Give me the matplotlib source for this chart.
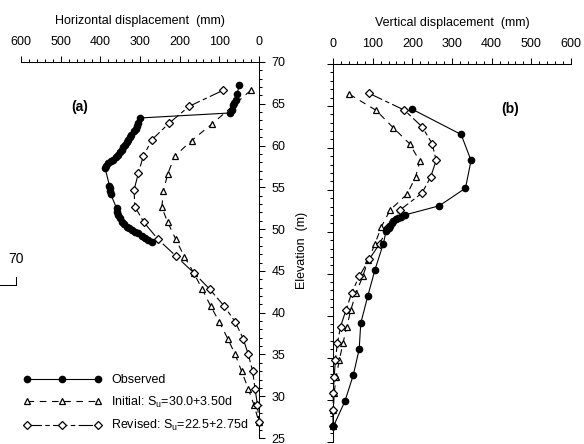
import matplotlib.pyplot as plt
from matplotlib.lines import Line2D
from matplotlib.ticker import MultipleLocator

plt.rcParams['font.family'] = ['Liberation Sans', 'DejaVu Sans']
plt.rcParams['font.size'] = 9

# (a) horizontal displacement (mm) vs elevation (m)
obs_h_disp = [50, 55, 59, 62, 65, 69, 73,
              300, 305, 308, 311, 316, 322, 326, 330, 334, 338, 342, 346, 351,
              355, 361, 367, 374, 380, 385, 388,
              377, 376, 375, 374,
              359, 357, 355, 351, 346, 340, 334, 327, 321, 313, 304, 296, 287,
              279, 270]
obs_h_elev = [67.2, 66.2, 65.5, 65.1, 64.8, 64.3, 63.9,
              63.3, 62.7, 62.3, 62.0, 61.7, 61.3, 61.0, 60.7, 60.4, 60.1, 59.8,
              59.5, 59.2, 58.9, 58.6, 58.3, 58.1, 57.9, 57.6, 57.3,
              55.2, 54.9, 54.6, 54.2,
              52.5, 52.1, 51.7, 51.3, 50.9, 50.6, 50.3, 50.1, 49.9, 49.7, 49.5,
              49.2, 48.9, 48.7, 48.5]

ini_h_disp = [21, 118, 170, 213, 230, 241, 245, 230, 210, 188, 165, 143,
              122, 100, 79, 60, 44, 27, 13, 0]
ini_h_elev = [66.6, 62.6, 60.6, 58.7, 56.6, 54.6, 52.6, 50.8, 48.8, 46.7,
              44.8, 42.8, 40.8, 38.9, 36.9, 35.0, 33.0, 30.9, 29.0, 26.9]

rev_h_disp = [91, 176, 226, 270, 292, 304, 315, 313, 290, 255, 210, 165,
              124, 88, 60, 40, 27, 16, 10, 4, 0]
rev_h_elev = [66.6, 64.7, 62.7, 60.7, 58.7, 56.7, 54.7, 52.7, 50.8, 48.8,
              46.8, 44.8, 42.8, 40.8, 38.9, 36.9, 35.0, 33.0, 30.9, 29.0, 26.9]

# (b) vertical displacement (mm) vs elevation (m)
obs_v_disp = [200, 323, 348, 334, 268, 181, 172, 165, 158, 152, 148, 144,
              140, 137, 134, 127, 106, 88, 70, 66, 51, 30, 1]
obs_v_elev = [64.6, 61.6, 58.5, 55.2, 53.1, 52.0, 51.8, 51.7, 51.5, 51.3,
              51.0, 50.7, 50.5, 50.3, 50.1, 48.6, 45.5, 42.4, 39.1, 36.0,
              32.9, 29.8, 26.8]

ini_v_disp = [41, 108, 152, 193, 219, 208, 187, 144, 122, 106, 89, 75, 58,
              45, 35, 25, 16, 8, 3, 1, 0]
ini_v_elev = [66.4, 64.5, 62.4, 60.5, 58.4, 56.5, 54.5, 52.6, 50.6, 48.6,
              46.6, 44.7, 42.7, 40.7, 38.7, 36.7, 34.7, 32.7, 30.8, 28.8, 26.8]

rev_v_disp = [91, 180, 225, 250, 260, 246, 224, 169, 139, 118, 91, 66, 47,
              33, 19, 11, 6, 3, 1, 0, 0]
rev_v_elev = [66.5, 64.5, 62.5, 60.5, 58.5, 56.5, 54.6, 52.6, 50.6, 48.6,
              46.7, 44.7, 42.7, 40.7, 38.7, 36.7, 34.7, 32.7, 30.8, 28.8, 26.8]

W, H = 584, 444
fig = plt.figure(figsize=(W / 100, H / 100), dpi=100)

ax1 = fig.add_axes([21 / W, 1 - 438 / H, 238 / W, (438 - 62) / H])
ax2 = fig.add_axes([333 / W, 1 - 441.5 / H, 238 / W, (441.5 - 64) / H])

obs_kw = dict(color='black', lw=0.8, marker='o', ms=4.5, mfc='black',
              mec='black', zorder=4)
ini_kw = dict(color='black', lw=0.8, marker='^', ms=4.5, mfc='white',
              mec='black', mew=0.9, dashes=(6, 5), zorder=3)
rev_kw = dict(color='black', lw=0.8, marker='D', ms=3.6, mfc='white',
              mec='black', mew=0.9, dashes=(13, 3, 4, 3), zorder=3)

for ax, series in ((ax1, [(ini_h_disp, ini_h_elev, ini_kw),
                          (rev_h_disp, rev_h_elev, rev_kw),
                          (obs_h_disp, obs_h_elev, obs_kw)]),
                   (ax2, [(ini_v_disp, ini_v_elev, ini_kw),
                          (rev_v_disp, rev_v_elev, rev_kw),
                          (obs_v_disp, obs_v_elev, obs_kw)])):
    for xs, ys, kw in series:
        ax.plot(xs, ys, clip_on=False, **kw)

for ax in (ax1, ax2):
    ax.set_ylim(25, 70)
    ax.xaxis.set_major_locator(MultipleLocator(100))
    ax.xaxis.set_minor_locator(MultipleLocator(20))
    ax.yaxis.set_major_locator(MultipleLocator(5))
    ax.yaxis.set_minor_locator(MultipleLocator(1))
    ax.xaxis.tick_top()
    ax.xaxis.set_label_position('top')
    ax.tick_params(which='both', direction='out', width=0.75)
    ax.tick_params(which='major', length=4)
    ax.tick_params(which='minor', length=2.2)
    ax.tick_params(axis='x', pad=6)
    ax.patch.set_visible(False)
    for s in ax.spines.values():
        s.set_linewidth(0.75)

ax1.set_xlim(600, 0)
ax1.spines['left'].set_visible(False)
ax1.spines['bottom'].set_visible(False)
ax1.yaxis.tick_right()
ax1.tick_params(axis='y', pad=5)
ax1.set_xlabel('Horizontal displacement  (mm)', labelpad=9)
ax1.text(451, 64.6, '(a)', ha='center', va='center', fontsize=10,
         fontweight='bold')

ax2.set_xlim(0, 600)
ax2.spines['right'].set_visible(False)
ax2.spines['bottom'].set_visible(False)
ax2.tick_params(axis='y', labelleft=False)
ax2.set_xlabel('Vertical displacement  (mm)', labelpad=9)
ax2.text(446, 64.6, '(b)', ha='center', va='center', fontsize=10,
         fontweight='bold')

fig.text(302 / W, 1 - 250 / H, 'Elevation  (m)', rotation=90,
         ha='center', va='center')

# leftover label and corner tick on the far left edge
fig.text(16 / W, 1 - 259 / H, '70', ha='center', va='center', fontsize=10)
fig.add_artist(Line2D([0, 16 / W], [1 - 285 / H] * 2, color='black', lw=0.75))
fig.add_artist(Line2D([16 / W] * 2, [1 - 285 / H, 1 - 277 / H],
                      color='black', lw=0.75))

handles = [
    Line2D([], [], **obs_kw),
    Line2D([], [], **ini_kw),
    Line2D([], [], **rev_kw),
]
labels = ['Observed',
          r'Initial: S$_\mathregular{u}$=30.0+3.50d',
          r'Revised: S$_\mathregular{u}$=22.5+2.75d']
fig.legend(handles, labels, loc='upper left',
           bbox_to_anchor=(23 / W, 1 - 374 / H), frameon=False,
           numpoints=3, handlelength=6.3, handletextpad=0.75,
           labelspacing=0.68, borderpad=0, borderaxespad=0)

fig.savefig('out.png', dpi=100)
